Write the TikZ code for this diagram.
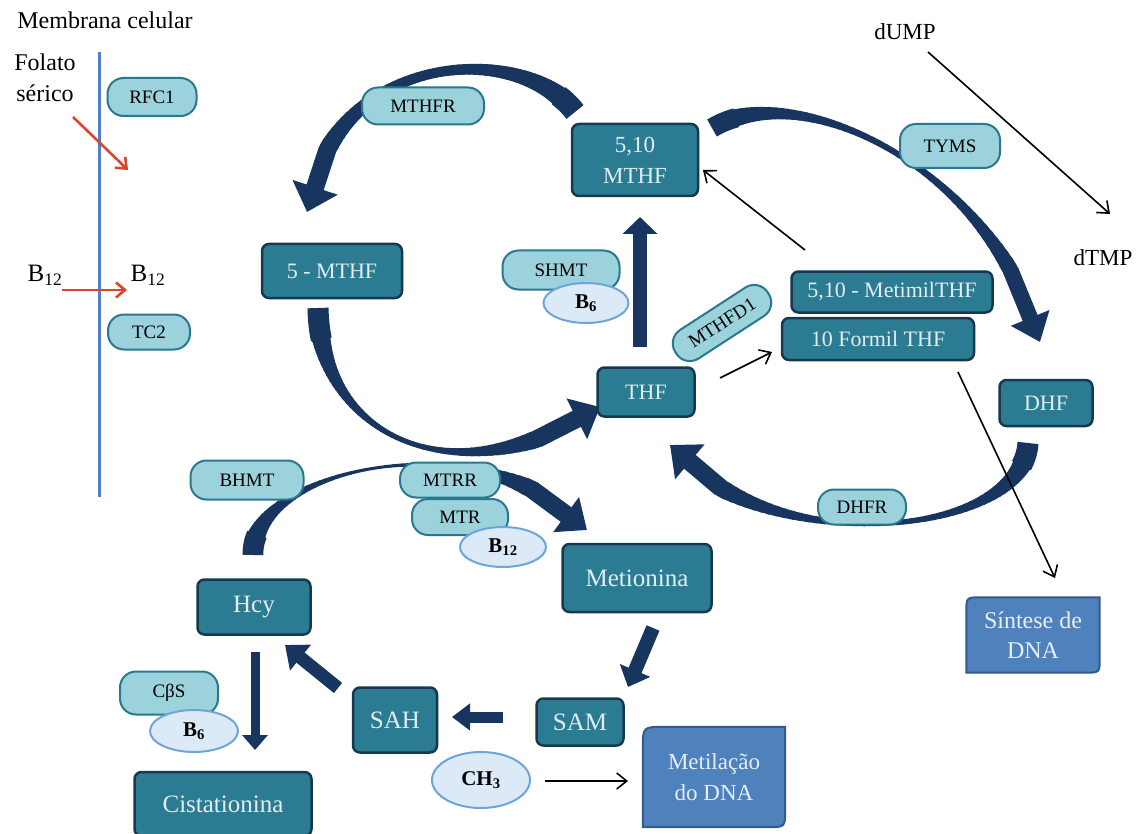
\documentclass[tikz,border=0pt]{standalone}
\usepackage{fontspec}
\setmainfont{Liberation Serif}
\usetikzlibrary{arrows.meta,shapes.geometric,calc,backgrounds}
\definecolor{boxfill}{HTML}{2B7C93}
\definecolor{boxline}{HTML}{17394F}
\definecolor{boxtext}{HTML}{E2EDF1}
\definecolor{pillfill}{HTML}{9BD2DC}
\definecolor{pillline}{HTML}{2A7890}
\definecolor{coffill}{HTML}{DCEAF7}
\definecolor{cofline}{HTML}{6EA5D8}
\definecolor{dnafill}{HTML}{4F81BD}
\definecolor{dnaline}{HTML}{34598A}
\definecolor{dnatext}{HTML}{E6EEF8}
\definecolor{arccol}{HTML}{17355F}
\definecolor{membcol}{HTML}{4F81CF}
\definecolor{redarr}{HTML}{D9472B}
\newcommand\myfs[2]{\fontsize{#1}{#2}\selectfont}
% tapered curved arrow: name, P0, P1, P2, P3, tail width, middle width, head width, head wing span
\newcommand\bigcurve[9]{%
  \foreach \i in {0,...,60}{\pgfmathsetmacro\pp{\i/60}%
    \path (#2) .. controls (#3) and (#4) .. (#5) coordinate[pos=\pp] (#1-\i);}%
  \pgfmathsetmacro\tw{#7+(#6-#7)*(1-2*0.04)^2}%
  \draw[arccol,line width=\tw pt,line cap=butt,line join=round]
    (#1-0) -- (#1-1) -- (#1-2) -- (#1-3) -- (#1-4) -- (#1-5);%
  \foreach \i [remember=\i as \k (initially 3)] in {4,...,51}{%
    \pgfmathsetmacro\ss{(\i-0.5)/60}%
    \pgfmathsetmacro\ww{\ss<0.5 ? #7+(#6-#7)*(1-2*\ss)^2 : #7+(#8-#7)*((\ss-0.5)/0.35)^2}%
    \draw[arccol,line width=\ww pt,line cap=round] (#1-\k) -- (#1-\i);}%
  \draw[arccol,line width=#8pt,-{Triangle[width=#9pt,length=26pt]}] (#1-51) -- (#1-60);%
}
\tikzset{
  sz/.style 2 args={minimum width=#1pt, minimum height=#2pt},
  box/.style={fill=boxfill, draw=boxline, line width=2.5pt, rounded corners=7pt,
    text=boxtext, inner sep=0pt, align=center},
  pill/.style={fill=pillfill, draw=pillline, line width=2pt, rounded corners=16pt,
    inner sep=0pt, text=black, font=\myfs{19}{20}},
  cof/.style={ellipse, fill=coffill, draw=cofline, line width=2pt, inner sep=0pt,
    text=black, font=\bfseries\myfs{21}{22}},
  dnab/.style={inner sep=0pt, text=dnatext, align=center, font=\myfs{24}{30}},
  plain/.style={inner sep=0pt, text=black},
  blk/.style={black, line width=1.6pt, -{Straight Barb[length=10pt,width=16pt]}},
  redarrow/.style={redarr, line width=2.6pt, -{Straight Barb[length=9pt,width=15pt]}},
  fat/.style={arccol, line width=#1pt},
}
\begin{document}
\begin{tikzpicture}[x=1pt,y=-1pt]
\useasboundingbox (0,0) rectangle (1145,834);

% ---- nodes ----
\node[plain,font=\myfs{24}{26}] (memb) at (105,20) {Membrana celular};
\node[plain,font=\myfs{24}{31},align=center] (fol) at (45,78) {Folato\\sérico};
\node[plain,font=\myfs{25}{26}] (b12a) at (45,275) {B\textsubscript{12}};
\node[plain,font=\myfs{25}{26}] (b12b) at (148,275) {B\textsubscript{12}};
\node[pill,sz={89}{38}] (rfc) at (152,97) {RFC1};
\node[pill,sz={82}{35}] (tc2) at (149,332) {TC2};
\node[pill,sz={122}{37}] (mthfr) at (423,106) {MTHFR};
\node[pill,sz={100}{44}] (tyms) at (950,146) {TYMS};
\node[box,sz={126}{72},font=\myfs{23}{31}] (m510) at (635,160) {5,10\\MTHF};
\node[box,sz={140}{54},font=\myfs{22}{24}] (m5) at (332,271) {5 - MTHF};
\node[pill,sz={117}{39}] (shmt) at (561,270) {SHMT};
\node[cof,sz={85}{40}] (b6a) at (586,303) {B\textsubscript{6}};
\node[box,sz={201}{41},font=\myfs{22}{24}] (mtl) at (892,292) {5,10 - MetimilTHF};
\node[box,sz={192}{42},font=\myfs{22}{24}] (fml) at (878,339) {10 Formil THF};
\node[pill,sz={110}{34},rotate=33] (mthfd) at (722,323) {MTHFD1};
\node[box,sz={97}{49},font=\myfs{22}{24}] (thf) at (646,392) {THF};
\node[box,sz={93}{46},font=\myfs{22}{24}] (dhf) at (1046,403) {DHF};
\node[pill,sz={88}{35}] (dhfr) at (862,507) {DHFR};
\node[pill,sz={113}{39}] (bhmt) at (247,480) {BHMT};
\node[pill,sz={100}{35}] (mtrr) at (450,480) {MTRR};
\node[pill,sz={96}{36}] (mtr) at (460,517) {MTR};
\node[cof,sz={86}{40}] (b12m) at (503,547) {B\textsubscript{12}};
\node[box,sz={149}{68},font=\myfs{25}{26}] (met) at (637,578) {Metionina};
\node[box,sz={113}{55},font=\myfs{25}{26}] (hcy) at (254,607) {Hcy};
\node[box,sz={84}{65},font=\myfs{25}{26}] (sah) at (395,720) {SAH};
\node[box,sz={87}{47},font=\myfs{25}{26}] (sam) at (580,722) {SAM};
\node[pill,sz={98}{43}] (cbs) at (169,693) {CβS};
\node[cof,sz={88}{42}] (b6c) at (194,731) {B\textsubscript{6}};
\node[cof,sz={98}{56}] (ch3) at (481,780) {CH\textsubscript{3}};
\node[box,sz={177}{64},font=\myfs{25}{26}] (cist) at (223,804) {Cistationina};
\node[dnab,sz={133}{75}] (syn) at (1033,635) {Síntese de\\DNA};
\node[dnab,sz={142}{100},font=\myfs{23}{31}] (mdna) at (714,777) {Metilação\\do DNA};
\node[plain,font=\myfs{23}{24}] (dump) at (905,32) {dUMP};
\node[plain,font=\myfs{23}{24}] (dtmp) at (1103,258) {dTMP};

% ---- membrane ----
\coordinate (mtop) at (99,52);
\coordinate (mbot) at (99,497);
\draw[membcol,line width=3pt] (mtop) -- (mbot);

% ---- thin arrows ----
\coordinate (r1a) at (73,117); \coordinate (r1b) at (128,170);
\draw[redarrow] (r1a) -- (r1b);
\coordinate (r2a) at (62,290); \coordinate (r2b) at (127,290);
\draw[redarrow] (r2a) -- (r2b);
\coordinate (k1a) at (805,250); \coordinate (k1b) at (703,170);
\draw[blk] (k1a) -- (k1b);
\coordinate (k2a) at (720,378); \coordinate (k2b) at (772,352);
\draw[blk] (k2a) -- (k2b);
\coordinate (k3a) at (958,372); \coordinate (k3b) at (1055,578);
\draw[blk] (k3a) -- (k3b);
\coordinate (k4a) at (928,52); \coordinate (k4b) at (1110,214);
\draw[blk] (k4a) -- (k4b);
\coordinate (k5a) at (545,781); \coordinate (k5b) at (628,781);
\draw[blk] (k5a) -- (k5b);

% ---- background: shapes and big arrows ----
\begin{scope}[on background layer]
\fill[white] (0,0) rectangle (1145,834);
\path[fill=dnafill,draw=dnaline,line width=2pt]
  ($(syn.north west)+(0,15)$) .. controls (syn.north west) .. ($(syn.north west)+(15,0)$)
  -- (syn.north east) -- ($(syn.south east)+(0,-15)$) .. controls (syn.south east) ..
  ($(syn.south east)+(-15,0)$) -- (syn.south west) -- cycle;
\path[fill=dnafill,draw=dnaline,line width=2pt]
  ($(mdna.north west)+(0,22)$) .. controls (mdna.north west) .. ($(mdna.north west)+(22,0)$)
  -- (mdna.north east) -- ($(mdna.south east)+(0,-18)$) .. controls (mdna.south east) ..
  ($(mdna.south east)+(-18,0)$) -- (mdna.south west) -- cycle;

% curved arrows
\bigcurve{A}{575,112}{520,40}{330,50}{307,212}{24}{10}{18}{46}
\bigcurve{B}{318,308}{320,440}{460,500}{600,407}{24}{5}{18}{44}
\bigcurve{C}{253,555}{250,470}{480,415}{587,530}{24}{3}{18}{42}
\bigcurve{D}{712,128}{800,75}{995,170}{1040,342}{22}{6}{16}{40}
\bigcurve{E}{1028,443}{1022,540}{760,560}{670,445}{24}{5}{18}{44}

% straight thick arrows
\coordinate (s1a) at (640,347); \coordinate (s1b) at (640,217);
\draw[fat=14,-{Triangle[width=34pt,length=17pt]}] (s1a) -- (s1b);
\coordinate (s2a) at (653,628); \coordinate (s2b) at (628,687);
\draw[fat=14,-{Triangle[width=32pt,length=18pt]}] (s2a) -- (s2b);
\coordinate (s3a) at (503,717); \coordinate (s3b) at (452,717);
\draw[fat=11,-{Triangle[width=26pt,length=18pt]}] (s3a) -- (s3b);
\coordinate (s4a) at (338,688); \coordinate (s4b) at (285,645);
\draw[fat=13,-{Triangle[width=32pt,length=20pt]}] (s4a) -- (s4b);
\coordinate (s5a) at (255,652); \coordinate (s5b) at (255,750);
\draw[fat=9,-{Triangle[width=25pt,length=15pt]}] (s5a) -- (s5b);
\end{scope}
\end{tikzpicture}
\end{document}
